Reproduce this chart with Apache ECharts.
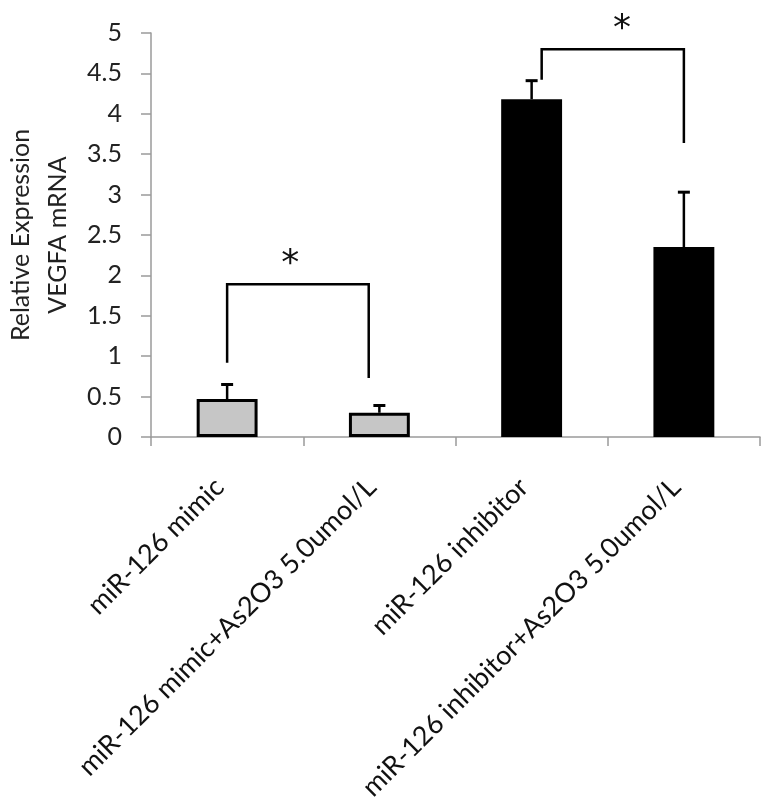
<!DOCTYPE html>
<html>
<head>
<meta charset="utf-8">
<script src="https://cdn.jsdelivr.net/npm/echarts@6/dist/echarts.min.js"></script>
<style>
html,body{margin:0;padding:0;background:#fff;}
#chart{width:764px;height:801px;}
</style>
</head>
<body>
<div id="chart"></div>
<script>
// ---- data ----
const categories = [
  'miR-126 mimic',
  'miR-126 mimic+As2O3 5.0umol/L',
  'miR-126 inhibitor',
  'miR-126 inhibitor+As2O3 5.0umol/L'
];
const values = [0.47, 0.30, 4.18, 2.35];
const errorUpper = [0.65, 0.39, 4.41, 3.03];
const barGroup = [0, 0, 1, 1];
const bracketFrom = [0, 2];
const bracketTo = [1, 3];
const bracketTop = [1.89, 4.80];
const bracketLeftEnd = [0.92, 4.42];
const bracketRightEnd = [0.73, 3.64];
const bracketLabel = ['*', '*'];
const yTicks = [0, 0.5, 1, 1.5, 2, 2.5, 3, 3.5, 4, 4.5, 5];

// ---- layout / style (not data) ----
const groupColors = ['#c6c6c6', '#000000'];
const bracketNudge = [[0, -0.07], [0.066, 0]];
const starNudge = [-0.05, 0.06];

const chart = echarts.init(document.getElementById('chart'));
const FONT = 'Lato';

const option = {
  animation: false,
  backgroundColor: '#ffffff',
  grid: { left: 151, right: 4, top: 33, bottom: 364, containLabel: false, outerBoundsMode: 'none' },
  xAxis: {
    type: 'category',
    data: categories,
    boundaryGap: true,
    axisLine: { show: true, lineStyle: { color: '#9a9a9a', width: 1.5 } },
    axisTick: { show: true, length: 9, lineStyle: { color: '#9a9a9a', width: 1.5 } },
    axisLabel: {
      interval: 0,
      rotate: 45,
      margin: 38,
      padding: [0, 11, 0, 0],
      fontFamily: FONT,
      fontSize: 27,
      color: '#111'
    }
  },
  yAxis: {
    type: 'value',
    min: yTicks[0],
    max: yTicks[yTicks.length - 1],
    interval: 0.5,
    name: 'Relative Expression\nVEGFA mRNA',
    nameLocation: 'middle',
    nameRotate: 90,
    nameGap: 73,
    nameTextStyle: { fontFamily: FONT, fontSize: 25, color: '#222', lineHeight: 37 },
    axisLine: { show: true, lineStyle: { color: '#9a9a9a', width: 1.5 } },
    axisTick: { show: true, inside: false, length: 10, lineStyle: { color: '#9a9a9a', width: 1.5 } },
    splitLine: { show: false },
    axisLabel: { margin: 29, fontFamily: FONT, fontSize: 25, color: '#222' }
  },
  series: [
    {
      type: 'bar',
      barWidth: '40%',
      data: values.map((v, i) => ({
        value: v,
        itemStyle: { color: groupColors[barGroup[i]], borderColor: '#000', borderWidth: 3 }
      })),
      z: 2
    },
    {
      type: 'custom',
      z: 3,
      data: values.map((v, i) => [i, v, errorUpper[i]]),
      renderItem: function (params, api) {
        const i = api.value(0);
        const base = api.coord([i, api.value(1)]);
        const top = api.coord([i, api.value(2)]);
        const half = 6;
        return {
          type: 'group',
          children: [
            { type: 'line', shape: { x1: base[0], y1: base[1], x2: top[0], y2: top[1] },
              style: { stroke: '#000', lineWidth: 2.5 } },
            { type: 'line', shape: { x1: top[0] - half, y1: top[1], x2: top[0] + half, y2: top[1] },
              style: { stroke: '#000', lineWidth: 3 } }
          ]
        };
      }
    },
    {
      type: 'custom',
      z: 4,
      data: bracketFrom.map((f, k) => [f, bracketTo[k], bracketTop[k], bracketLeftEnd[k], bracketRightEnd[k]]),
      renderItem: function (params, api) {
        const k = params.dataIndex;
        const bw = api.size([1, 0])[0];
        const lx = api.coord([api.value(0), 0])[0] + bracketNudge[k][0] * bw;
        const rx = api.coord([api.value(1), 0])[0] + bracketNudge[k][1] * bw;
        const ty = api.coord([0, api.value(2)])[1];
        const ly = api.coord([0, api.value(3)])[1];
        const ry = api.coord([0, api.value(4)])[1];
        const cx = (lx + rx) / 2 + starNudge[k] * bw;
        return {
          type: 'group',
          children: [
            { type: 'polyline', shape: { points: [[lx, ly], [lx, ty], [rx, ty], [rx, ry]] },
              style: { stroke: '#000', lineWidth: 2.5, fill: null } },
            { type: 'text', x: cx, y: ty - 20,
              style: { text: bracketLabel[k], fontFamily: 'DejaVu Sans', fontSize: 36, fill: '#111',
                       align: 'center', verticalAlign: 'middle' } }
          ]
        };
      }
    }
  ]
};
chart.setOption(option);
</script>
</body>
</html>
